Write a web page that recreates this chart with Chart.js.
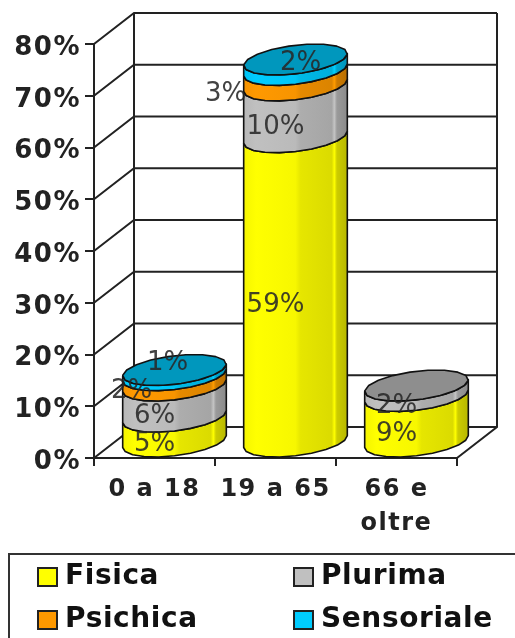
<!DOCTYPE html>
<html>
<head>
<meta charset="utf-8">
<script src="https://cdn.jsdelivr.net/npm/chart.js@4"></script>
<style>
  html, body { margin: 0; padding: 0; background: #fff; width: 515px; height: 638px; overflow: hidden; }
  #chart { position: absolute; left: 0; top: 0; filter: blur(0.6px); }
  #legend {
    position: absolute; left: 8px; top: 553px; width: 520px; height: 100px;
    border: 2px solid #333; box-sizing: border-box; filter: blur(0.6px);
    font: bold 28px "DejaVu Sans", sans-serif; color: #111; letter-spacing: 0.6px;
  }
  .item { position: absolute; height: 30px; line-height: 30px; white-space: nowrap; }
  .swatch { position: absolute; left: 0; top: 7px; width: 21px; height: 20px; box-sizing: border-box; border: 2px solid #222; }
  .item span.txt { position: absolute; left: 28px; top: 0; }
</style>
</head>
<body>
<canvas id="chart" width="515" height="638"></canvas>
<div id="legend"></div>
<script>
const CATEGORIES = ['0 a 18', '19 a 65', ['66 e', 'oltre']];
const SERIES_NAMES = ['Fisica', 'Plurima', 'Psichica', 'Sensoriale'];
const FISICA = [5, 59, 9];
const PLURIMA = [6, 10, 2];
const PSICHICA = [2, 3, 0];
const SENSORIALE = [1, 2, 0];
const SERIES_COLORS = ['#ffff00', '#c0c0c0', '#ff9900', '#00ccff'];
const LINE_COLOR = '#222';

// 3d depth of the plot box, in px
const DEPTH_X = 40;
const DEPTH_Y = -31;
// small labels that Excel pushed off their segment ('dataset:category')
const LABEL_NUDGE = { '2:0': [-23, -5], '3:0': [13, -25], '2:1': [-50, 1], '3:1': [25, -17] };

function shade(hex, f) {
  const n = parseInt(hex.slice(1), 16);
  const ch = (v) => Math.round(Math.min(255, v * f));
  return `rgb(${ch((n >> 16) & 255)},${ch((n >> 8) & 255)},${ch(n & 255)})`;
}

function ellipsePoint(cx, cy, hw, t) {
  return [cx + hw * Math.cos(t) + (DEPTH_X / 2) * Math.sin(t), cy + (DEPTH_Y / 2) * Math.sin(t)];
}

function tracePolygon(ctx, pts) {
  ctx.beginPath();
  pts.forEach((p, i) => (i ? ctx.lineTo(p[0], p[1]) : ctx.moveTo(p[0], p[1])));
  ctx.closePath();
}

function cap(cx, cy, hw) {
  const pts = [];
  for (let i = 0; i < 18; i++) pts.push(ellipsePoint(cx, cy, hw, (i / 18) * Math.PI * 2));
  return pts;
}

// front half of the ring between the left and right silhouette points
function frontHalf(cx, cy, hw) {
  const t0 = Math.atan2(DEPTH_X / 2, hw);
  const pts = [];
  for (let i = 0; i <= 10; i++) pts.push(ellipsePoint(cx, cy, hw, t0 - (i / 10) * Math.PI));
  return pts;
}

const cylinderPlugin = {
  id: 'cylinders',
  beforeDraw(chart) {
    // axis labels in the original are wider than DejaVu Bold
    chart.ctx.letterSpacing = '1.5px';
  },
  beforeDatasetsDraw(chart) {
    const { ctx, scales: { x, y } } = chart;
    const left = x.left;
    const right = x.right;
    const y0 = y.getPixelForValue(0);
    const yMax = y.getPixelForValue(80);
    ctx.save();
    ctx.strokeStyle = LINE_COLOR;
    ctx.lineWidth = 2;
    ctx.beginPath();
    y.ticks.forEach((t) => {
      const py = y.getPixelForValue(t.value);
      ctx.moveTo(left, py);
      ctx.lineTo(left + DEPTH_X, py + DEPTH_Y);
      ctx.lineTo(right + DEPTH_X, py + DEPTH_Y);
    });
    ctx.moveTo(left + DEPTH_X, yMax + DEPTH_Y);
    ctx.lineTo(left + DEPTH_X, y0 + DEPTH_Y);
    ctx.moveTo(right + DEPTH_X, yMax + DEPTH_Y);
    ctx.lineTo(right + DEPTH_X, y0 + DEPTH_Y);
    ctx.lineTo(right, y0);
    ctx.stroke();
    ctx.restore();
  },
  beforeDatasetDraw() {
    return false;
  },
  afterDatasetsDraw(chart) {
    const { ctx } = chart;
    const metas = chart.data.datasets.map((d, i) => chart.getDatasetMeta(i));
    ctx.save();
    ctx.lineJoin = 'round';
    CATEGORIES.forEach((c, idx) => {
      let topBar = null;
      let topColor = null;
      metas.forEach((meta, di) => {
        if (!chart.data.datasets[di].data[idx]) return;
        const bar = meta.data[idx];
        const hw = bar.width / 2;
        const cx = bar.x + DEPTH_X / 2;
        const yb = bar.base + DEPTH_Y / 2;
        const yt = bar.y + DEPTH_Y / 2;
        const col = SERIES_COLORS[di];
        const reach = Math.hypot(hw, DEPTH_X / 2);
        const side = frontHalf(cx, yb, hw).concat(frontHalf(cx, yt, hw).reverse());
        const grad = ctx.createLinearGradient(cx - reach, 0, cx + reach, 0);
        grad.addColorStop(0, shade(col, 0.96));
        grad.addColorStop(0.12, shade(col, 1));
        grad.addColorStop(0.5, shade(col, 0.97));
        grad.addColorStop(0.55, shade(col, 0.9));
        grad.addColorStop(0.85, shade(col, 0.86));
        grad.addColorStop(0.875, shade(col, 1.02));
        grad.addColorStop(0.9, shade(col, 0.8));
        grad.addColorStop(1, shade(col, 0.72));
        tracePolygon(ctx, side);
        ctx.fillStyle = grad;
        ctx.fill();
        ctx.strokeStyle = '#111';
        ctx.lineWidth = 1.6;
        ctx.stroke();
        topBar = { cx, yt, hw };
        topColor = col;
      });
      if (topBar) {
        tracePolygon(ctx, cap(topBar.cx, topBar.yt, topBar.hw));
        ctx.fillStyle = shade(topColor, 0.74);
        ctx.fill();
        ctx.strokeStyle = '#111';
        ctx.lineWidth = 1.6;
        ctx.stroke();
      }
    });

    // value labels go on top of all cylinders
    ctx.letterSpacing = '0px';
    ctx.font = '26px "DejaVu Sans", sans-serif';
    ctx.textAlign = 'center';
    ctx.textBaseline = 'middle';
    ctx.fillStyle = 'rgba(40,40,40,0.88)';
    metas.forEach((meta, di) => {
      const data = chart.data.datasets[di].data;
      data.forEach((v, idx) => {
        if (!v) return;
        const bar = meta.data[idx];
        const nudge = LABEL_NUDGE[`${di}:${idx}`] || [0, 0];
        ctx.fillText(`${v}%`, bar.x + nudge[0], (bar.y + bar.base) / 2 + nudge[1]);
      });
    });
    ctx.restore();
  },
};

new Chart(document.getElementById('chart'), {
  type: 'bar',
  data: {
    labels: CATEGORIES,
    datasets: [FISICA, PLURIMA, PSICHICA, SENSORIALE].map((values, i) => ({
      label: SERIES_NAMES[i],
      data: values,
      backgroundColor: SERIES_COLORS[i],
      barPercentage: 0.79,
      categoryPercentage: 1,
    })),
  },
  options: {
    responsive: false,
    animation: false,
    layout: { padding: { top: 44, right: 58, left: 0, bottom: 0 } },
    plugins: { legend: { display: false }, tooltip: { enabled: false } },
    scales: {
      x: {
        stacked: true,
        afterFit(scale) { scale.height = 180; },
        border: { color: LINE_COLOR, width: 2 },
        grid: { drawOnChartArea: false, color: LINE_COLOR, lineWidth: 2, tickLength: 8 },
        ticks: {
          autoSkip: false,
          maxRotation: 0,
          padding: 6,
          color: '#222',
          font: { family: '"DejaVu Sans", sans-serif', weight: 'bold', size: 24, lineHeight: 1.45 },
        },
      },
      y: {
        stacked: true,
        min: 0,
        max: 80,
        afterFit(scale) { scale.width = 94; },
        border: { color: LINE_COLOR, width: 2 },
        grid: { drawOnChartArea: false, color: LINE_COLOR, lineWidth: 2, tickLength: 9 },
        ticks: {
          stepSize: 10,
          padding: 4,
          labelOffset: 4,
          color: '#222',
          font: { family: '"DejaVu Sans", sans-serif', weight: 'bold', size: 26 },
          callback: (v) => `${v}%`,
        },
      },
    },
  },
  plugins: [cylinderPlugin],
});

const legendEl = document.getElementById('legend');
SERIES_NAMES.forEach((name, i) => {
  const item = document.createElement('div');
  item.className = 'item';
  item.style.left = (i % 2 ? 283 : 27) + 'px';
  item.style.top = (i < 2 ? 5 : 48) + 'px';
  const sw = document.createElement('div');
  sw.className = 'swatch';
  sw.style.background = SERIES_COLORS[i];
  const txt = document.createElement('span');
  txt.className = 'txt';
  txt.textContent = name;
  item.append(sw, txt);
  legendEl.appendChild(item);
});
</script>
</body>
</html>
